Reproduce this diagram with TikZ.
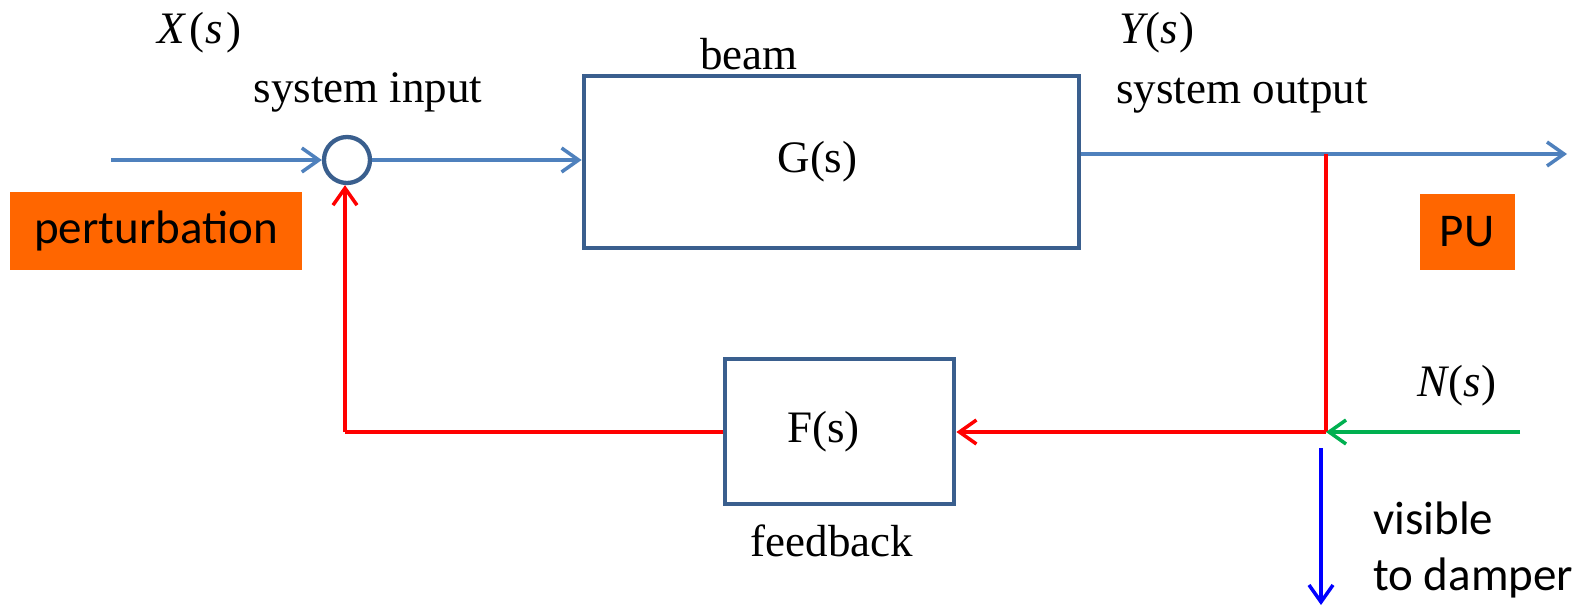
\documentclass[tikz,border=0pt]{standalone}
\usepackage{fontspec}
\setmainfont{Liberation Serif}
\newfontfamily\calibrif{Carlito}
\usetikzlibrary{arrows.meta}
\definecolor{boxblue}{HTML}{3A5F8E}
\definecolor{lineblue}{HTML}{4F81BD}
\definecolor{orng}{HTML}{FF6600}
\definecolor{grn}{HTML}{00B050}
\tikzset{
  tip/.style={-{Straight Barb[length=17pt,width=24pt,line width=3.5pt]}},
  blockbox/.style={draw=boxblue,line width=4.8pt,rectangle,inner sep=0pt},
  sumnode/.style={draw=boxblue,line width=4.3pt,circle,minimum size=46pt,inner sep=0pt},
  flow/.style={draw=lineblue,line width=3.4pt},
  fb/.style={draw=red,line width=4.3pt},
  tag/.style={fill=orng,inner sep=0pt,font=\calibrif\fontsize{47}{56}\selectfont},
  lbl/.style={inner sep=0pt,font=\fontsize{45}{54}\selectfont},
  cal/.style={inner sep=0pt,font=\calibrif\fontsize{47}{56}\selectfont}
}
\begin{document}
\begin{tikzpicture}[x=1pt,y=-1pt]
\useasboundingbox (0,0) rectangle (1587,607);
% blocks
\node[sumnode] (sum) at (347,160) {};
\node[blockbox,minimum width=495pt,minimum height=172pt,
      label={[lbl,xshift=-14pt]center:G(s)}] (G) at (831.5,162) {};
\node[blockbox,minimum width=229pt,minimum height=145pt,
      label={[lbl,xshift=-16pt]center:F(s)}] (F) at (839.5,431.5) {};
% orange tags
\node[tag,minimum width=292pt,minimum height=78pt] (pert) at (156,231) {perturbation};
\node[tag,minimum width=95pt,minimum height=76pt] (pu) at (1467,232) {PU};
% labels
\node[lbl] (xs) at (199,33) {\itshape X\kern5pt\upshape(\kern1pt\itshape s\kern3pt\upshape)};
\node[lbl] (sysin) at (368,92) {system input};
\node[lbl] (beam) at (749,54) {beam};
\node[lbl] (ys) at (1157,33) {\itshape Y\kern1pt\upshape(\itshape s\kern1pt\upshape)};
\node[lbl] (sysout) at (1242,96) {system output};
\node[lbl] (ns) at (1457,386) {\itshape N\kern1pt\upshape(\itshape s\kern1pt\upshape)};
\node[lbl] (fbl) at (832,541) {feedback};
\node[cal,align=left,anchor=west] (vis) at (1373,550) {visible\\to damper};
% coordinates
\coordinate (xin) at (111,160);
\coordinate (out) at (1567,154);
\coordinate (jtop) at (1326,154);
\coordinate (jbot) at (1326,432);
\coordinate (nin) at (1520,432);
\coordinate (dtop) at (1321,448);
\coordinate (dbot) at (1321,605);
\coordinate (fbcorner) at (345,432);
% connectors
\draw[flow,tip] (xin) -- (sum.west);
\draw[flow,tip] (sum.east) -- (sum.east -| G.west);
\draw[flow,tip] (G.east |- out) -- (out);
\draw[fb] (jtop) -- (jbot);
\draw[fb,tip] (jbot) -- (F.east |- jbot);
\draw[draw=grn,line width=4.3pt,tip] (nin) -- (jbot);
\draw[fb] (F.west |- jbot) -- (fbcorner);
\draw[fb,tip] (fbcorner) -- (sum.south -| fbcorner);
\draw[draw=blue,line width=4.3pt,tip] (dtop) -- (dbot);
\end{tikzpicture}
\end{document}
